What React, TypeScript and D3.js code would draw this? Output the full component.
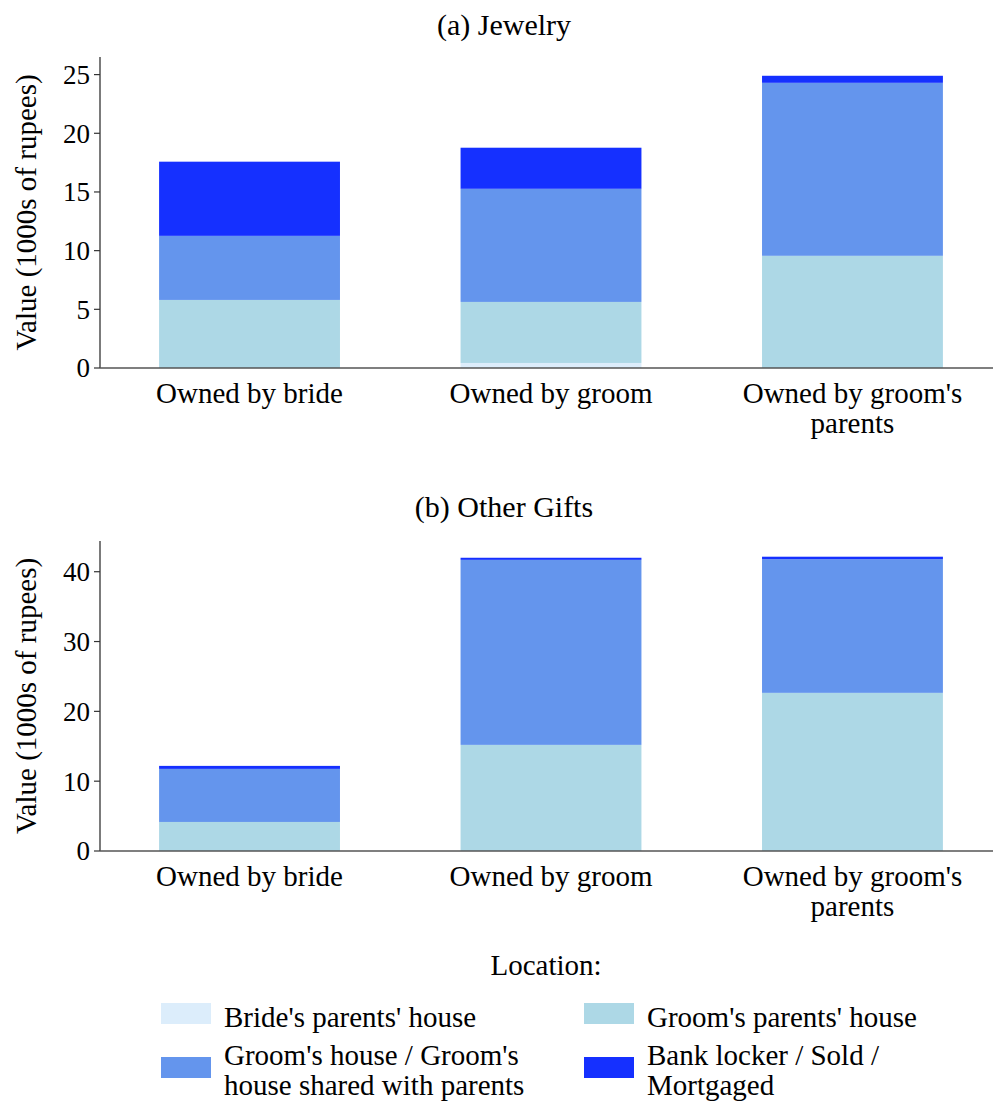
import React from "react";
import * as d3 from "d3";

// Ownership categories (x axis)
const categories = ["Owned by bride", "Owned by groom", "Owned by groom's parents"];
const categoryLines: Record<string, string[]> = {
  "Owned by bride": ["Owned by bride"],
  "Owned by groom": ["Owned by groom"],
  "Owned by groom's parents": ["Owned by groom's", "parents"],
};

// Storage locations, stacked bottom to top
const locations = [
  "Bride's parents' house",
  "Groom's parents' house",
  "Groom's house / Groom's house shared with parents",
  "Bank locker / Sold / Mortgaged",
];
const locationColors = ["#dcedfb", "#add8e6", "#6495ed", "#1530ff"];

// Values in 1000s of rupees, one array per category, in location order
const jewelryBride = [0, 5.8, 5.46, 6.32];
const jewelryGroom = [0.43, 5.2, 9.64, 3.5];
const jewelryParents = [0, 9.56, 14.74, 0.6];

const giftsBride = [0, 4.16, 7.6, 0.43];
const giftsGroom = [0, 15.2, 26.5, 0.3];
const giftsParents = [0, 22.65, 19.15, 0.35];

const jewelryTicks = [0, 5, 10, 15, 20, 25];
const giftsTicks = [0, 10, 20, 30, 40];

const FONT = "Liberation Serif";
const labelStyle: React.CSSProperties = { fontFamily: FONT, fontSize: 29 };
const tickStyle: React.CSSProperties = { fontFamily: FONT, fontSize: 27 };
const titleStyle: React.CSSProperties = { fontFamily: FONT, fontSize: 30 };

const xLeft = 100;
const xRight = 993;

type PanelProps = {
  title: string;
  titleY: number;
  top: number;
  bottom: number;
  yMax: number;
  ticks: number[];
  series: number[][];
};

function Panel({ title, titleY, top, bottom, yMax, ticks, series }: PanelProps) {
  const x = d3
    .scaleBand<string>()
    .domain(categories)
    .range([xLeft, 1002])
    .paddingInner(0.4)
    .paddingOuter(0.196);
  const y = d3.scaleLinear().domain([0, yMax]).range([bottom, top]);

  const rows = categories.map((c, i) => {
    const o: Record<string, number | string> = { category: c };
    locations.forEach((l, j) => (o[l] = series[i][j]));
    return o;
  });
  const stacked = d3.stack<Record<string, number | string>>().keys(locations)(rows as any);

  return (
    <g>
      <text x={504} y={titleY} textAnchor="middle" style={titleStyle}>
        {title}
      </text>
      {stacked.map((layer, li) => (
        <g key={li} fill={locationColors[li]}>
          {layer.map((d, i) => {
            const h = y(d[0]) - y(d[1]);
            if (h <= 0) return null;
            return (
              <rect
                key={i}
                x={x(categories[i])}
                width={x.bandwidth()}
                y={y(d[1])}
                height={h}
              />
            );
          })}
        </g>
      ))}
      {/* left spine and ticks */}
      <line x1={xLeft} x2={xLeft} y1={top} y2={bottom} stroke="#333" strokeWidth={1.3} />
      {ticks.map((t) => (
        <g key={t}>
          <line x1={xLeft - 6} x2={xLeft} y1={y(t)} y2={y(t)} stroke="#333" strokeWidth={1.2} />
          <text x={xLeft - 10} y={y(t)} dy="0.35em" textAnchor="end" style={tickStyle}>
            {t}
          </text>
        </g>
      ))}
      {/* bottom spine */}
      <line x1={xLeft} x2={xRight} y1={bottom} y2={bottom} stroke="#555" strokeWidth={1.6} />
      {categories.map((c) => (
        <text
          key={c}
          x={(x(c) as number) + x.bandwidth() / 2}
          y={bottom + 35}
          textAnchor="middle"
          style={labelStyle}
        >
          {categoryLines[c].map((ln, k) => (
            <tspan key={k} x={(x(c) as number) + x.bandwidth() / 2} dy={k === 0 ? 0 : 30}>
              {ln}
            </tspan>
          ))}
        </text>
      ))}
      <text
        transform={`translate(36,${(top + bottom) / 2}) rotate(-90)`}
        textAnchor="middle"
        style={labelStyle}
      >
        Value (1000s of rupees)
      </text>
    </g>
  );
}

const legendLines = [
  ["Bride's parents' house"],
  ["Groom's parents' house"],
  ["Groom's house / Groom's", "house shared with parents"],
  ["Bank locker / Sold /", "Mortgaged"],
];

export default function App() {
  const legendPos = [
    { sx: 161, sy: 1003, ty: 1027 },
    { sx: 584, sy: 1003, ty: 1027 },
    { sx: 161, sy: 1057, ty: 1065 },
    { sx: 584, sy: 1057, ty: 1065 },
  ];
  return (
    <svg
      width={994}
      height={1101}
      style={{ position: "absolute", left: 0, top: 0, background: "#fff" }}
    >
      <rect width={994} height={1101} fill="#fff" />
      <Panel
        title="(a) Jewelry"
        titleY={35}
        top={57}
        bottom={368}
        yMax={26.5}
        ticks={jewelryTicks}
        series={[jewelryBride, jewelryGroom, jewelryParents]}
      />
      <Panel
        title="(b) Other Gifts"
        titleY={517}
        top={541}
        bottom={851}
        yMax={44.4}
        ticks={giftsTicks}
        series={[giftsBride, giftsGroom, giftsParents]}
      />
      <text x={546} y={975} textAnchor="middle" style={labelStyle}>
        Location:
      </text>
      {locations.map((l, i) => {
        const p = legendPos[i];
        return (
          <g key={l}>
            <rect x={p.sx} y={p.sy} width={50} height={21} fill={locationColors[i]} />
            <text x={p.sx + 63} y={p.ty} style={labelStyle}>
              {legendLines[i].map((ln, k) => (
                <tspan key={k} x={p.sx + 63} dy={k === 0 ? 0 : 30}>
                  {ln}
                </tspan>
              ))}
            </text>
          </g>
        );
      })}
    </svg>
  );
}
